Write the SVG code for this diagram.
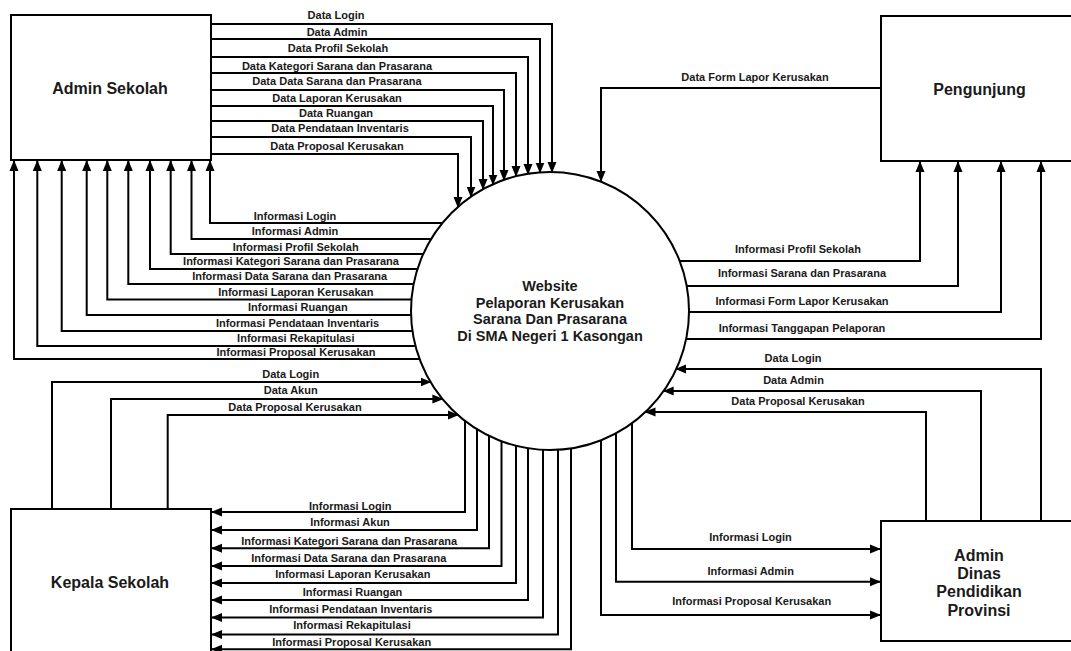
<svg xmlns="http://www.w3.org/2000/svg" width="1071" height="651" viewBox="0 0 1071 651">
<style>
.box{fill:#fff;stroke:#000;stroke-width:2}
.flow{fill:none;stroke:#000;stroke-width:2;marker-end:url(#arr)}
.lbl{font-family:"Liberation Sans",Arial,sans-serif;font-weight:bold;font-size:11px;text-anchor:middle;fill:#1a1a1a}
.title{font-family:"Liberation Sans",Arial,sans-serif;font-weight:bold;font-size:16px;text-anchor:middle;fill:#1a1a1a}
.proc{font-family:"Liberation Sans",Arial,sans-serif;font-weight:bold;font-size:14.5px;text-anchor:middle;fill:#1a1a1a}
</style>
<defs>
<marker id="arr" markerUnits="userSpaceOnUse" markerWidth="11" markerHeight="10" viewBox="0 0 11 10" refX="10" refY="5" orient="auto">
<path d="M0,0.5 L11,5 L0,9.5 z" fill="#000"/>
</marker>
</defs>
<rect width="1071" height="651" fill="#fff"/>
<g id="admin-sekolah">
<rect class="box" x="11" y="15" width="200" height="145"/>
<text class="title" x="110" y="94">Admin Sekolah</text>
</g>
<g id="pengunjung">
<rect class="box" x="881" y="16" width="210" height="145"/>
<text class="title" x="979.5" y="95">Pengunjung</text>
</g>
<g id="kepala-sekolah">
<rect class="box" x="11" y="509" width="200" height="160"/>
<text class="title" x="110" y="588">Kepala Sekolah</text>
</g>
<g id="admin-dinas">
<rect class="box" x="881" y="521" width="210" height="120"/>
<text class="title" x="979" y="560.5">Admin</text>
<text class="title" x="979" y="579">Dinas</text>
<text class="title" x="979" y="597">Pendidikan</text>
<text class="title" x="979" y="615.5">Provinsi</text>
</g>
<g id="process">
<circle class="box" cx="550" cy="311" r="139"/>
<text class="proc" x="550" y="291">Website</text>
<text class="proc" x="550" y="307.5">Pelaporan Kerusakan</text>
<text class="proc" x="550" y="324">Sarana Dan Prasarana</text>
<text class="proc" x="550" y="341">Di SMA Negeri 1 Kasongan</text>
</g>
<g id="connectors">
<path class="flow" d="M211,24 H552 V172"/>
<path class="flow" d="M211,39 H540 V172.5"/>
<path class="flow" d="M211,57 H528 V174"/>
<path class="flow" d="M211,73 H516 V176"/>
<path class="flow" d="M211,90 H504 V180"/>
<path class="flow" d="M211,106 H493 V184.5"/>
<path class="flow" d="M211,121 H483 V189"/>
<path class="flow" d="M211,137 H471 V196.5"/>
<path class="flow" d="M211,154 H458 V207"/>
<path class="flow" d="M442,223 H210 V161"/>
<path class="flow" d="M431,239 H191.5 V161"/>
<path class="flow" d="M423,254 H170.7 V161"/>
<path class="flow" d="M417.5,269 H150 V161"/>
<path class="flow" d="M413.6,284 H128.3 V161"/>
<path class="flow" d="M411.5,299.5 H107.3 V161"/>
<path class="flow" d="M411,315 H86.7 V161"/>
<path class="flow" d="M412.4,331 H61.7 V161"/>
<path class="flow" d="M415.5,346 H37.3 V161"/>
<path class="flow" d="M419.6,359 H14 V161"/>
<path class="flow" d="M881,88 H601 V181"/>
<path class="flow" d="M679.7,261 H920 V162"/>
<path class="flow" d="M686.7,286 H958 V162"/>
<path class="flow" d="M689,312 H1001 V162"/>
<path class="flow" d="M686,339 H1041 V162"/>
<path class="flow" d="M1041,521 V369 H676.3"/>
<path class="flow" d="M981,521 V391 H663.7"/>
<path class="flow" d="M926,521 V412 H645.5"/>
<path class="flow" d="M632,423 V549 H880"/>
<path class="flow" d="M616,433 V581.7 H880"/>
<path class="flow" d="M601,440 V615 H880"/>
<path class="flow" d="M52,509 V382 H430.5"/>
<path class="flow" d="M111,509 V399 H442.4"/>
<path class="flow" d="M167.7,509 V415 H457.8"/>
<path class="flow" d="M465,421 V512 H212"/>
<path class="flow" d="M477,429 V530 H212"/>
<path class="flow" d="M489,436 V548.3 H212"/>
<path class="flow" d="M501.5,441 V566 H212"/>
<path class="flow" d="M516,445.5 V583 H212"/>
<path class="flow" d="M528,448 V600 H212"/>
<path class="flow" d="M543,449.5 V617.5 H212"/>
<path class="flow" d="M558,449.5 V634.5 H212"/>
<path class="flow" d="M571,448 V649.3 H212"/>
</g>
<g id="labels">
<text class="lbl" x="336" y="19">Data Login</text>
<text class="lbl" x="337" y="35.5">Data Admin</text>
<text class="lbl" x="338" y="52.3">Data Profil Sekolah</text>
<text class="lbl" x="337" y="69.5">Data Kategori Sarana dan Prasarana</text>
<text class="lbl" x="337" y="85">Data Data Sarana dan Prasarana</text>
<text class="lbl" x="337" y="101.7">Data Laporan Kerusakan</text>
<text class="lbl" x="336" y="117.3">Data Ruangan</text>
<text class="lbl" x="340" y="132.3">Data Pendataan Inventaris</text>
<text class="lbl" x="337" y="149.7">Data Proposal Kerusakan</text>
<text class="lbl" x="295" y="219.7">Informasi Login</text>
<text class="lbl" x="295" y="235">Informasi Admin</text>
<text class="lbl" x="295.7" y="250.7">Informasi Profil Sekolah</text>
<text class="lbl" x="291" y="265">Informasi Kategori Sarana dan Prasarana</text>
<text class="lbl" x="289.7" y="280">Informasi Data Sarana dan Prasarana</text>
<text class="lbl" x="295.8" y="296.3">Informasi Laporan Kerusakan</text>
<text class="lbl" x="297.8" y="310.7">Informasi Ruangan</text>
<text class="lbl" x="297.5" y="326.7">Informasi Pendataan Inventaris</text>
<text class="lbl" x="295.8" y="341.7">Informasi Rekapitulasi</text>
<text class="lbl" x="296" y="355.7">Informasi Proposal Kerusakan</text>
<text class="lbl" x="755" y="80.7">Data Form Lapor Kerusakan</text>
<text class="lbl" x="798" y="253.3">Informasi Profil Sekolah</text>
<text class="lbl" x="802" y="277.3">Informasi Sarana dan Prasarana</text>
<text class="lbl" x="802" y="304.7">Informasi Form Lapor Kerusakan</text>
<text class="lbl" x="802" y="332.3">Informasi Tanggapan Pelaporan</text>
<text class="lbl" x="793" y="362.3">Data Login</text>
<text class="lbl" x="793.5" y="384">Data Admin</text>
<text class="lbl" x="798" y="405">Data Proposal Kerusakan</text>
<text class="lbl" x="750.5" y="540.7">Informasi Login</text>
<text class="lbl" x="750.7" y="574.7">Informasi Admin</text>
<text class="lbl" x="751.7" y="605">Informasi Proposal Kerusakan</text>
<text class="lbl" x="290.7" y="378">Data Login</text>
<text class="lbl" x="290.7" y="394">Data Akun</text>
<text class="lbl" x="295" y="410.7">Data Proposal Kerusakan</text>
<text class="lbl" x="350.3" y="509.7">Informasi Login</text>
<text class="lbl" x="350" y="526.3">Informasi Akun</text>
<text class="lbl" x="349.2" y="544.7">Informasi Kategori Sarana dan Prasarana</text>
<text class="lbl" x="348.8" y="561.7">Informasi Data Sarana dan Prasarana</text>
<text class="lbl" x="352.8" y="578">Informasi Laporan Kerusakan</text>
<text class="lbl" x="352.5" y="595.7">Informasi Ruangan</text>
<text class="lbl" x="350.8" y="613">Informasi Pendataan Inventaris</text>
<text class="lbl" x="352" y="629">Informasi Rekapitulasi</text>
<text class="lbl" x="351.7" y="645.7">Informasi Proposal Kerusakan</text>
</g>
</svg>
